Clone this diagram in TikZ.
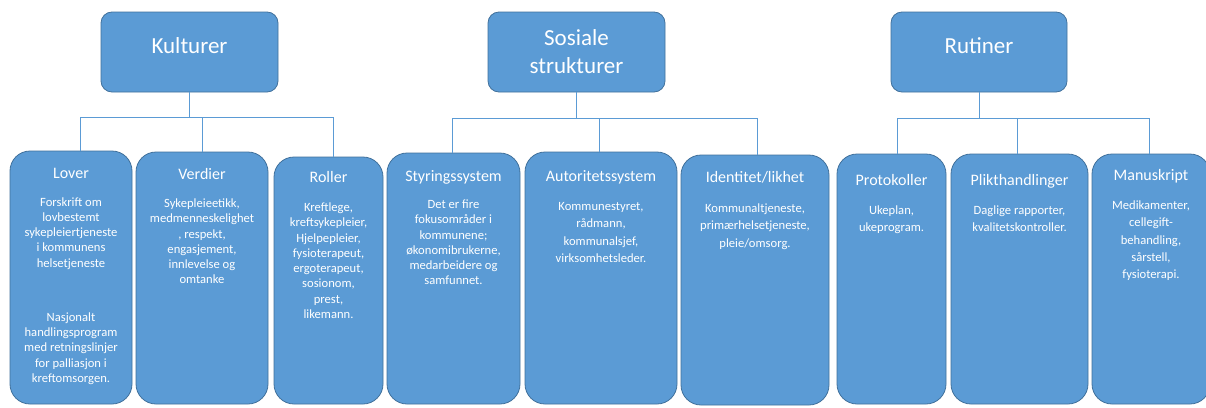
\documentclass[tikz,border=0pt]{standalone}
\usepackage{fontspec}
\setmainfont{Carlito}
\definecolor{boxfill}{HTML}{5B9BD5}
\definecolor{boxline}{HTML}{41719C}
\definecolor{connline}{HTML}{5B9BD5}
\tikzset{
  topbox/.style={draw=boxline, fill=boxfill, line width=0.8pt, rounded corners=11pt, inner sep=0pt},
  subbox/.style={draw=boxline, fill=boxfill, line width=0.8pt, rounded corners=20pt, inner sep=0pt},
  toptext/.style={text=white, font=\fontsize{23}{28}\selectfont, align=center, inner sep=0pt},
  subtitle/.style={text=white, font=\fontsize{16}{19}\selectfont, anchor=base, inner sep=0pt},
  bodyL/.style={text=white, font=\fontsize{12.6}{15.25}\selectfont, align=center, anchor=north, inner sep=0pt},
  bodyR/.style={text=white, font=\fontsize{12.6}{17.2}\selectfont, align=center, anchor=north, inner sep=0pt},
  conn/.style={draw=connline, line width=0.9pt}
}
\begin{document}
\begin{tikzpicture}[x=1pt, y=-1pt]
\useasboundingbox[fill=white] (0,0) rectangle (1206,407);

% top level
\node[topbox, minimum width=177pt, minimum height=80pt] (kult) at (189.5,52) {};
\node[toptext] (kultT) at (189.5,46) {Kulturer};
\node[topbox, minimum width=177pt, minimum height=80pt] (sos) at (576.5,52) {};
\node[toptext] (sosT) at (576.5,52) {Sosiale\\strukturer};
\node[topbox, minimum width=176pt, minimum height=80pt] (rut) at (979,52) {};
\node[toptext] (rutT) at (979,46) {Rutiner};

% second level boxes
\node[subbox, minimum width=122pt, minimum height=253pt] (lover) at (71,277.5) {};
\node[subbox, minimum width=132pt, minimum height=252pt] (verd) at (202,278) {};
\node[subbox, minimum width=109pt, minimum height=247pt] (roll) at (328.5,280.5) {};
\node[subbox, minimum width=133pt, minimum height=251pt] (styr) at (453.5,278.5) {};
\node[subbox, minimum width=152pt, minimum height=252pt] (aut) at (601,278) {};
\node[subbox, minimum width=148pt, minimum height=250pt] (ident) at (755,280) {};
\node[subbox, minimum width=109pt, minimum height=250pt] (prot) at (891.5,279) {};
\node[subbox, minimum width=137pt, minimum height=250pt] (plikt) at (1019.5,279) {};
\node[subbox, minimum width=118pt, minimum height=250pt] (manu) at (1151,279) {};

% connectors
\draw[conn] (kult.south) -- ++(0,25) -| ([xshift=9pt]lover.north);
\draw[conn] (kult.south) -- ++(0,25) -| (verd.north);
\draw[conn] (kult.south) -- ++(0,25) -| ([xshift=4.5pt]roll.north);
\draw[conn] (sos.south) -- ++(0,26) -| ([xshift=-1.5pt]styr.north);
\draw[conn] (sos.south) -- ++(0,26) -| ([xshift=-2pt]aut.north);
\draw[conn] (sos.south) -- ++(0,26) -| ([xshift=2pt]ident.north);
\draw[conn] (rut.south) -- ++(0,26) -| ([xshift=5.5pt]prot.north);
\draw[conn] (rut.south) -- ++(0,26) -| ([xshift=-2.5pt]plikt.north);
\draw[conn] (rut.south) -- ++(0,26) -| ([xshift=-2pt]manu.north);

% titles
\node[subtitle] (loverT) at (71,178) {Lover};
\node[subtitle] (verdT) at (202,179.3) {Verdier};
\node[subtitle] (rollT) at (328.5,182.5) {Roller};
\node[subtitle] (styrT) at (453.5,181) {Styringssystem};
\node[subtitle] (autT) at (601,181) {Autoritetssystem};
\node[subtitle] (identT) at (755,182.5) {Identitet/likhet};
\node[subtitle] (protT) at (891.5,185) {Protokoller};
\node[subtitle] (pliktT) at (1019.5,185) {Plikthandlinger};
\node[subtitle] (manuT) at (1151,180.5) {Manuskript};

% body texts
\node[bodyL] (loverB) at (71,195.3) {\strut Forskrift om\\lovbestemt\\sykepleiertjeneste\\i kommunens\\helsetjeneste\\[39pt]Nasjonalt\\handlingsprogram\\med retningslinjer\\for palliasjon i\\kreftomsorgen.};
\node[bodyL] (verdB) at (202,196.8) {\strut Sykepleieetikk,\\medmenneskelighet\\, respekt,\\engasjement,\\innlevelse og\\omtanke};
\node[bodyL] (rollB) at (328.5,200.8) {\strut Kreftlege,\\kreftsykepleier,\\Hjelpepleier,\\fysioterapeut,\\ergoterapeut,\\sosionom,\\prest,\\likemann.};
\node[bodyL] (styrB) at (453.5,197.8) {\strut Det er fire\\fokusområder i\\kommunene;\\økonomibrukerne,\\medarbeidere og\\samfunnet.};
\node[bodyR] (autB) at (601,198.5) {\strut Kommunestyret,\\rådmann,\\kommunalsjef,\\virksomhetsleder.};
\node[bodyR] (identB) at (755,200.5) {\strut Kommunaltjeneste,\\primærhelsetjeneste,\\pleie/omsorg.};
\node[bodyR] (protB) at (891.5,202.5) {\strut Ukeplan,\\ukeprogram.};
\node[bodyR] (pliktB) at (1019.5,202.5) {\strut Daglige rapporter,\\kvalitetskontroller.};
\node[bodyR] (manuB) at (1151,197.5) {\strut Medikamenter,\\cellegift-\\behandling,\\sårstell,\\fysioterapi.};
\end{tikzpicture}
\end{document}
